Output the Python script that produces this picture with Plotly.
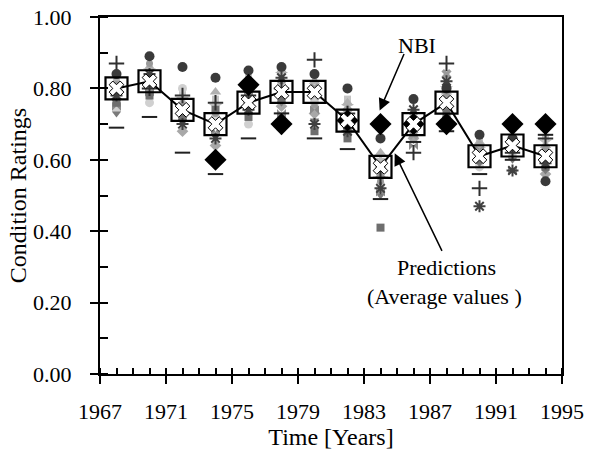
import plotly.graph_objects as go

years = [1968, 1970, 1972, 1974, 1976, 1978, 1980, 1982, 1984, 1986, 1988, 1990, 1992, 1994]

# Average predicted condition ratings
predictions = [0.80, 0.82, 0.74, 0.70, 0.76, 0.79, 0.79, 0.71, 0.58, 0.70, 0.76, 0.61, 0.64, 0.61]

# NBI observed ratings (only the years where a diamond is visible)
nbi_years = [1974, 1976, 1978, 1982, 1984, 1986, 1988, 1992, 1994]
nbi_values = [0.60, 0.81, 0.70, 0.71, 0.70, 0.70, 0.70, 0.70, 0.70]

# Individual simulation runs (grey clusters)
sim_circle = [0.84, 0.89, 0.86, 0.83, 0.85, 0.86, 0.84, 0.80, 0.66, 0.77, 0.80, 0.67, 0.66, 0.54]
sim_dash = [0.69, 0.72, 0.62, 0.56, 0.66, 0.73, 0.66, 0.63, 0.49, 0.65, 0.68, 0.56, 0.60, 0.67]
sim_plus = [0.87, 0.80, 0.78, 0.76, 0.78, 0.80, 0.88, 0.73, 0.55, 0.62, 0.87, 0.52, 0.62, 0.66]
sim_star = [0.78, 0.84, 0.70, 0.66, 0.74, 0.83, 0.70, 0.68, 0.52, 0.74, 0.82, 0.47, 0.57, 0.59]
sim_square = [0.76, 0.78, 0.72, 0.74, 0.72, 0.77, 0.68, 0.66, 0.41, 0.70, 0.73, 0.60, 0.63, 0.58]
sim_triangle = [0.82, 0.86, 0.76, 0.79, 0.82, 0.85, 0.82, 0.76, 0.62, 0.72, 0.79, 0.65, 0.65, 0.64]
sim_x = [0.80, 0.82, 0.74, 0.70, 0.80, 0.79, 0.80, 0.72, 0.56, 0.67, 0.84, 0.62, 0.64, 0.62]
sim_light = [0.74, 0.76, 0.80, 0.72, 0.70, 0.81, 0.76, 0.70, 0.53, 0.69, 0.77, 0.58, 0.61, 0.61]
sim_diamond = [0.77, 0.80, 0.68, 0.64, 0.76, 0.75, 0.73, 0.74, 0.58, 0.66, 0.75, 0.64, 0.66, 0.56]
sim_bow = [0.75, 0.79, 0.73, 0.68, 0.79, 0.73, 0.74, 0.69, 0.51, 0.64, 0.71, 0.63, 0.57, 0.60]
sim_star5 = [0.79, 0.85, 0.77, 0.75, 0.81, 0.84, 0.78, 0.75, 0.60, 0.71, 0.80, 0.63, 0.62, 0.65]
sim_tri_down = [0.73, 0.81, 0.71, 0.67, 0.73, 0.76, 0.71, 0.67, 0.50, 0.68, 0.74, 0.59, 0.60, 0.57]
sim_dot = [0.81, 0.87, 0.75, 0.73, 0.78, 0.82, 0.75, 0.72, 0.54, 0.72, 0.78, 0.61, 0.63, 0.63]
sim_box = [0.83, 0.83, 0.79, 0.77, 0.83, 0.80, 0.81, 0.77, 0.57, 0.73, 0.81, 0.66, 0.65, 0.66]

x_ticks = [1967, 1971, 1975, 1979, 1983, 1987, 1991, 1995]
y_ticks = [0.0, 0.2, 0.4, 0.6, 0.8, 1.0]
y_tick_text = ["0.00", "0.20", "0.40", "0.60", "0.80", "1.00"]

FONT = "Liberation Serif, Times New Roman, serif"

fig = go.Figure()

sims = [
    (sim_box, "square", "#c4c4c4", 7),
    (sim_light, "circle", "#d0d0d0", 9),
    (sim_star5, "star", "#bdbdbd", 10),
    (sim_triangle, "triangle-up", "#b0b0b0", 10),
    (sim_dot, "circle", "#999999", 7),
    (sim_diamond, "diamond", "#a8a8a8", 9),
    (sim_tri_down, "triangle-down", "#7a7a7a", 8),
    (sim_bow, "bowtie", "#8a8a8a", 9),
    (sim_x, "x", "#9a9a9a", 9),
    (sim_square, "square", "#6e6e6e", 8),
    (sim_star, "asterisk-open", "#404040", 10),
    (sim_plus, "cross-thin-open", "#303030", 11),
    (sim_dash, "line-ew-open", "#202020", 11),
    (sim_circle, "circle", "#3a3a3a", 10),
]
for vals, sym, col, sz in sims:
    open_sym = sym.endswith("-open")
    fig.add_trace(go.Scatter(
        x=years, y=vals, mode="markers", showlegend=False,
        marker=dict(symbol=sym, size=sz, color=col,
                    line=dict(width=2 if open_sym else 0, color=col)),
    ))

fig.add_trace(go.Scatter(
    x=nbi_years, y=nbi_values, mode="markers", showlegend=False,
    marker=dict(symbol="diamond", size=17, color="black", line=dict(width=0)),
))

fig.add_trace(go.Scatter(
    x=years, y=predictions, mode="lines+markers", showlegend=False,
    line=dict(color="black", width=2),
    marker=dict(symbol="square-open", size=22, color="black", line=dict(width=2.2, color="black")),
))
fig.add_trace(go.Scatter(
    x=years, y=predictions, mode="markers", showlegend=False,
    marker=dict(symbol="x", size=13, color="white", line=dict(width=1, color="black")),
))

fig.add_annotation(x=1983.95, y=0.738, ax=25, ay=-58, text="", showarrow=True,
                   arrowhead=2, arrowsize=1.6, arrowwidth=1.5, arrowcolor="black")
fig.add_annotation(x=1986.2, y=0.92, text="NBI", showarrow=False,
                   font=dict(family=FONT, size=22, color="black"))
fig.add_annotation(x=1984.86, y=0.618, ax=48, ay=99, text="", showarrow=True,
                   arrowhead=2, arrowsize=1.6, arrowwidth=1.5, arrowcolor="black")
fig.add_annotation(x=1988.0, y=0.297, text="Predictions", showarrow=False,
                   font=dict(family=FONT, size=22, color="black"))
fig.add_annotation(x=1987.9, y=0.218, text="(Average values )", showarrow=False,
                   font=dict(family=FONT, size=22, color="black"))

fig.update_layout(
    width=590, height=459,
    margin=dict(l=100, r=28, t=17, b=85, autoexpand=False),
    paper_bgcolor="white", plot_bgcolor="white",
    font=dict(family=FONT, size=22, color="black"),
    xaxis=dict(
        range=[1967, 1995], tickmode="array", tickvals=x_ticks,
        ticktext=[str(v) for v in x_ticks],
        ticks="outside", ticklen=8, tickwidth=1.5, tickcolor="black",
        ticklabelstandoff=9, ticklabeloverflow="allow",
        minor=dict(ticks="inside", dtick=1, tick0=1967, ticklen=6, tickwidth=1.5, tickcolor="black"),
        showline=True, linecolor="black", linewidth=2, mirror=True,
        showgrid=False, zeroline=False, automargin=False,
        title=dict(text="Time [Years]", font=dict(family=FONT, size=24), standoff=4),
        tickfont=dict(family=FONT, size=22),
    ),
    yaxis=dict(
        range=[0, 1.0], tickmode="array", tickvals=y_ticks, ticktext=y_tick_text,
        ticks="outside", ticklen=8, tickwidth=1.5, tickcolor="black",
        ticklabelstandoff=14, ticklabeloverflow="allow",
        minor=dict(ticks="inside", dtick=0.1, tick0=0, ticklen=8, tickwidth=1.5, tickcolor="black"),
        showline=True, linecolor="black", linewidth=2, mirror=True,
        showgrid=False, zeroline=False, automargin=False,
        title=dict(text="Condition Ratings", font=dict(family=FONT, size=24), standoff=0),
        tickfont=dict(family=FONT, size=22),
    ),
)

fig.write_html("out.html", config={"displayModeBar": False},
               post_script="document.body.style.margin='0';")
